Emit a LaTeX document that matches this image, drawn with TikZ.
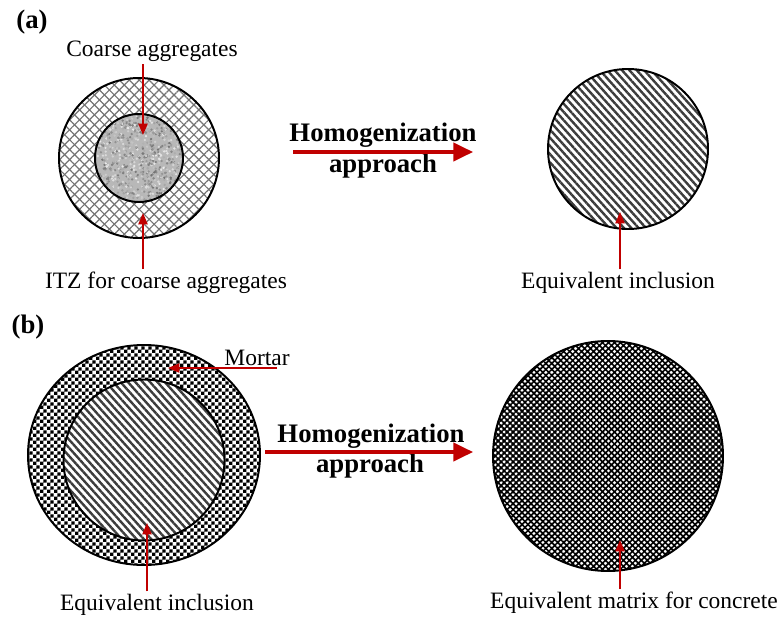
\documentclass[tikz,border=0pt]{standalone}
\usepackage{fontspec}
\setmainfont{Liberation Serif}
\definecolor{ptrred}{RGB}{192,0,0}
\definecolor{stripegray}{RGB}{60,60,60}
\definecolor{gridgray}{RGB}{115,115,115}
\usetikzlibrary{arrows.meta, patterns, patterns.meta}

\pgfdeclarepatternformonly{fine checker}{\pgfpointorigin}{\pgfqpoint{4.8pt}{4.8pt}}{\pgfqpoint{4.8pt}{4.8pt}}{%
  \pgfpathrectangle{\pgfpointorigin}{\pgfqpoint{2.4pt}{2.4pt}}%
  \pgfpathrectangle{\pgfqpoint{2.4pt}{2.4pt}}{\pgfqpoint{2.4pt}{2.4pt}}%
  \pgfusepath{fill}}

\begin{document}
\begin{tikzpicture}[x=0.025cm, y=-0.025cm,
  lbl/.style={font=\fontsize{16.7}{18}\selectfont, inner sep=1.5pt, anchor=base},
  head/.style={font=\bfseries\fontsize{19}{22}\selectfont, inner sep=1.5pt, anchor=base},
  ptr/.style={-{Triangle[length=8pt, width=6.5pt]}, line width=1.1pt, ptrred},
  bigarr/.style={-{Triangle[length=14pt, width=13pt]}, line width=2.4pt, ptrred},
  rim/.style={line width=1.4pt, black},
  hatch/.style={pattern={Lines[angle=-48, distance=3.9pt, line width=1.7pt]}, pattern color=stripegray},
  cross/.style={pattern={Lines[angle=#1, distance=5pt, line width=0.85pt]}, pattern color=gridgray},
  mesh/.style={pattern={Lines[angle=#1, distance=3pt, line width=1.2pt]}, pattern color=black},
  checker/.style={pattern=fine checker, pattern color=black}
]
\useasboundingbox (0,0) rectangle (780,617);

% (a) aggregate with ITZ
\coordinate (itzc) at (139,158);
\fill[cross=45] (itzc) circle[radius=80];
\fill[cross=-45] (itzc) circle[radius=80];
\draw[rim] (itzc) circle[radius=80];
\begin{scope}
  \clip (itzc) circle[radius=44];
  \fill[black!28] (itzc) circle[radius=44];
  \pgfmathsetseed{7}
  \foreach \i in {1,...,900}{
    \pgfmathsetmacro{\px}{139+44*rand}
    \pgfmathsetmacro{\py}{158+44*rand}
    \pgfmathsetmacro{\shd}{int(8+48*rnd)}
    \fill[black!\shd] (\px,\py) circle[radius=1.3];
  }
\end{scope}
\draw[rim] (itzc) circle[radius=44];

\coordinate (eqac) at (628,149);
\fill[white] (eqac) circle[radius=80];
\fill[hatch] (eqac) circle[radius=80];
\draw[rim] (eqac) circle[radius=80];

\node[head] (taga)   at (32,29)   {(a)};
\node[lbl]  (coarse) at (152,57)  {Coarse aggregates};
\node[lbl]  (itz)    at (166,288) {ITZ for coarse aggregates};
\node[lbl]  (eqa)    at (618,288) {Equivalent inclusion};
\node[head] (homa)   at (383,142) {Homogenization};
\node[head] (appa)   at (383,173) {approach};

\coordinate (aggtip) at (143,135);
\coordinate (itztip) at (143,213);
\coordinate (eqatip) at (620,212);
\coordinate (arra1) at (293,152);
\coordinate (arra2) at (473,152);

\draw[ptr] (coarse.south -| aggtip) -- (aggtip);
\draw[ptr] (itz.north -| itztip) -- (itztip);
\draw[ptr] (eqa.north -| eqatip) -- (eqatip);
\draw[bigarr] (arra1) -- (arra2);

% (b) inclusion in mortar
\coordinate (mortc) at (144,455);
\coordinate (inclc) at (144,460);
\fill[checker] (mortc) ellipse[x radius=116, y radius=110];
\fill[white] (inclc) circle[radius=80.5];
\fill[hatch] (inclc) circle[radius=80.5];
\draw[rim] (mortc) ellipse[x radius=116, y radius=110];
\draw[rim] (inclc) circle[radius=80.5];

\coordinate (matc) at (608,456);
\fill[mesh=45] (matc) circle[radius=115];
\fill[mesh=-45] (matc) circle[radius=115];
\draw[rim] (matc) circle[radius=115];

\node[head] (tagb)   at (28,333)  {(b)};
\node[lbl]  (mortar) at (257,365) {Mortar};
\node[lbl]  (eqb)    at (157,610) {Equivalent inclusion};
\node[lbl]  (matrix) at (634,608) {Equivalent matrix for concrete};
\node[head] (homb)   at (371,442) {Homogenization};
\node[head] (appb)   at (370,472) {approach};

\coordinate (morttail) at (277,368);
\coordinate (morttip) at (168,368);
\coordinate (incltip) at (147,523);
\coordinate (mattip) at (620,540);
\coordinate (arrb1) at (265,452);
\coordinate (arrb2) at (473,452);

\draw[ptr] (morttail) -- (morttip);
\draw[ptr] (eqb.north -| incltip) -- (incltip);
\draw[ptr] (matrix.north -| mattip) -- (mattip);
\draw[bigarr] (arrb1) -- (arrb2);

\end{tikzpicture}
\end{document}
